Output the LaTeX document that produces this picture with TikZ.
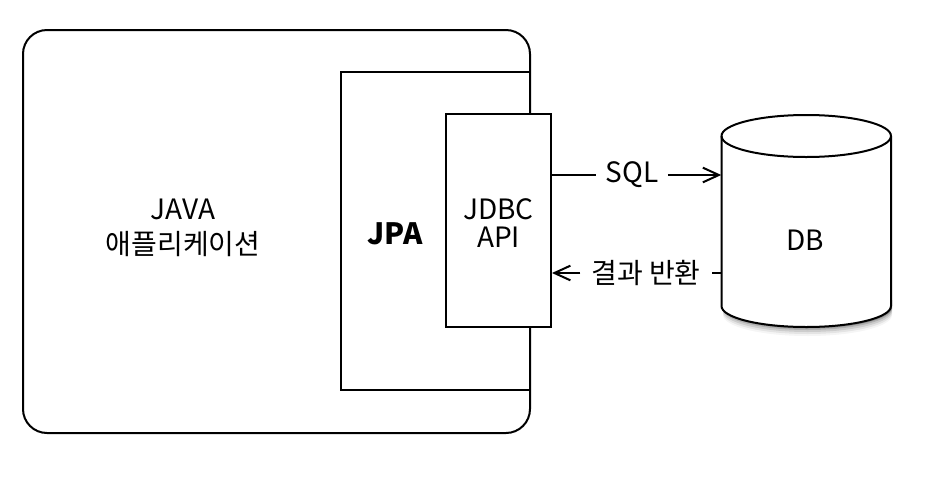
\documentclass[tikz,border=0pt]{standalone}
\usepackage{fontspec}
\setmainfont{Noto Sans CJK KR}
\usetikzlibrary{arrows.meta}
\tikzset{
  box/.style={draw=black, line width=1.5pt, fill=white, inner sep=0pt},
  lbl/.style={font=\fontsize{21}{26}\selectfont, inner sep=1pt, align=center},
  conn/.style={line width=1.5pt},
  arr/.style={line width=1.5pt, -{Straight Barb[length=12pt, width=11pt, line width=1.5pt]}},
}
\begin{document}
\begin{tikzpicture}[x=0.75pt, y=-0.75pt]
\useasboundingbox (0,0) rectangle (933,497);
% application box
\node[box, rounded corners=18pt, minimum width=380.25pt, minimum height=302.25pt] (app) at (276.5,231.5) {};
\node[box, minimum width=141.75pt, minimum height=238.5pt] (jpa) at (435.5,231) {};
\node[box, minimum width=78.75pt, minimum height=159.75pt] (jdbc) at (498.5,220.5) {};
\node[lbl] (javalbl) at (183,228) {JAVA\\애플리케이션};
\node[lbl, font=\fontsize{22}{26}\selectfont\bfseries] (jpalbl) at (395,234) {JPA};
\node[lbl, font=\fontsize{21}{21}\selectfont] (jdbclbl) at (498.5,223) {JDBC\\API};
% DB cylinder shadow
\foreach \o/\a in {9/0.04,7/0.07,5/0.1,3/0.14,1.5/0.18}{
  \fill[black, opacity=\a] (723,300) -- (723,306+\o) arc[start angle=180, end angle=0, x radius=84.5, y radius=21] -- (892,300) -- cycle;
}
% DB cylinder
\path[box] (721.5,136) -- (721.5,306) arc[start angle=180, end angle=0, x radius=84.75, y radius=21] -- (891,136) arc[start angle=0, end angle=-180, x radius=84.75, y radius=21] -- cycle;
\draw[line width=1.5pt] (721.5,136) arc[start angle=180, end angle=0, x radius=84.75, y radius=21];
\node[inner sep=0pt, minimum width=127.1pt, minimum height=127.5pt] (db) at (806.25,221) {};
\node[lbl] (dblbl) at (805,240) {DB};
% connectors
\node[lbl, inner xsep=7pt] (sql) at (632,175) {SQL};
\node[lbl, inner xsep=8pt] (ret) at (646,273) {결과 반환};
\draw[conn] (jdbc.east |- sql) -- (sql.west);
\draw[arr] (sql.east) -- (db.west |- sql);
\draw[conn] (db.west |- ret) -- (ret.east);
\draw[arr] (ret.west) -- (jdbc.east |- ret);
\end{tikzpicture}
\end{document}
